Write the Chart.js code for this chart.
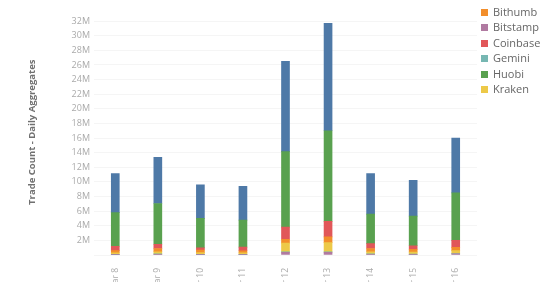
<!DOCTYPE html>
<html>
<head>
<meta charset="utf-8">
<script src="https://cdn.jsdelivr.net/npm/chart.js@4.4.0/dist/chart.umd.min.js"></script>
<style>
    html, body { margin: 0; padding: 0; background: #fff; overflow: hidden; }
    .wrap { position: relative; width: 554px; height: 282px; }
    #legend { position: absolute; left: 481px; top: -12px; font-family: 'Open Sans', sans-serif; font-size: 11px; color: #666; }
    .legend-item { height: 15.5px; line-height: 15.5px; white-space: nowrap; }
    .legend-box { display: inline-block; width: 7px; height: 7px; margin-right: 5px; vertical-align: 0px; }
</style>
</head>
<body>
<div class="wrap">
    <canvas id="chart" width="554" height="282"></canvas>
    <div id="legend"></div>
</div>
<script>
// Categories
const DAYS = ['Mar 8', 'Mar 9', 'Mar 10', 'Mar 11', 'Mar 12', 'Mar 13', 'Mar 14', 'Mar 15', 'Mar 16'];

// Trade counts per exchange, in millions
const BITSTAMP = [0.05, 0.1, 0.05, 0.05, 0.38, 0.38, 0.1, 0.08, 0.15];
const GEMINI   = [0.05, 0.05, 0.03, 0.03, 0.05, 0.05, 0.05, 0.03, 0.05];
const KRAKEN   = [0.2, 0.3, 0.25, 0.2, 1.19, 1.27, 0.3, 0.28, 0.4];
const BITHUMB  = [0.3, 0.44, 0.35, 0.3, 0.53, 0.79, 0.44, 0.4, 0.44];
const COINBASE = [0.6, 0.58, 0.3, 0.5, 1.66, 2.11, 0.67, 0.47, 0.96];
const HUOBI    = [4.6, 5.58, 4.04, 3.69, 10.34, 12.4, 4.03, 4.05, 6.5];
const BINANCE  = [5.35, 6.3, 4.58, 4.63, 12.35, 14.7, 5.56, 4.89, 7.5];

// Y axis
const Y_MAX = 33.6;
const Y_STEP = 2;

// Tableau-ish palette
const COLORS = {
    binance: '#4e79a7',
    bithumb: '#f28e2b',
    bitstamp: '#b07aa1',
    coinbase: '#e15759',
    gemini: '#76b7b2',
    huobi: '#59a14f',
    kraken: '#edc948'
};

// Stack order (bottom first)
const SERIES = [
    { label: 'Bitstamp', data: BITSTAMP, color: COLORS.bitstamp },
    { label: 'Gemini', data: GEMINI, color: COLORS.gemini },
    { label: 'Kraken', data: KRAKEN, color: COLORS.kraken },
    { label: 'Bithumb', data: BITHUMB, color: COLORS.bithumb },
    { label: 'Coinbase', data: COINBASE, color: COLORS.coinbase },
    { label: 'Huobi', data: HUOBI, color: COLORS.huobi },
    { label: 'Binance', data: BINANCE, color: COLORS.binance }
];

// Legend order (alphabetical)
const LEGEND_ORDER = ['Binance', 'Bithumb', 'Bitstamp', 'Coinbase', 'Gemini', 'Huobi', 'Kraken'];

const ctx = document.getElementById('chart').getContext('2d');

new Chart(ctx, {
    type: 'bar',
    data: {
        labels: DAYS,
        datasets: SERIES.map(s => ({
            label: s.label,
            data: s.data,
            backgroundColor: s.color,
            borderWidth: 0,
            barThickness: 8
        }))
    },
    options: {
        responsive: false,
        animation: false,
        layout: { padding: { left: 0, right: 77, top: 0, bottom: 0 } },
        plugins: {
            legend: { display: false },
            tooltip: { enabled: false }
        },
        scales: {
            x: {
                stacked: true,
                grid: { display: false },
                border: { display: false },
                ticks: {
                    minRotation: 90,
                    maxRotation: 90,
                    padding: 5,
                    color: '#aaa',
                    font: { family: 'Open Sans', size: 8.5 }
                },
                afterFit: scale => { scale.height = 27; }
            },
            y: {
                stacked: true,
                min: 0,
                max: Y_MAX,
                grid: { color: '#f5f5f5', drawTicks: false },
                border: { display: false },
                title: {
                    display: true,
                    text: 'Trade Count - Daily Aggregates',
                    color: '#707070',
                    font: { family: 'Open Sans', size: 9.5, weight: 'bold' },
                    padding: { top: 27, bottom: 0 }
                },
                ticks: {
                    stepSize: Y_STEP,
                    includeBounds: false,
                    padding: 4,
                    color: '#aaa',
                    font: { family: 'Open Sans', size: 9 },
                    callback: v => (v === 0 ? '' : v + 'M')
                },
                afterFit: scale => { scale.width = 94; }
            }
        }
    }
});

// HTML legend
const legendEl = document.getElementById('legend');
LEGEND_ORDER.forEach(name => {
    const s = SERIES.find(x => x.label === name);
    const row = document.createElement('div');
    row.className = 'legend-item';
    row.innerHTML = `<span class="legend-box" style="background:${s.color}"></span>${name}`;
    legendEl.appendChild(row);
});
</script>
</body>
</html>
